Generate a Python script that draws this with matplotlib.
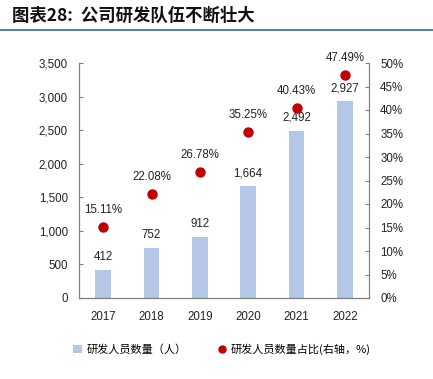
import matplotlib
matplotlib.use("Agg")
import matplotlib.pyplot as plt
from matplotlib.lines import Line2D
from matplotlib.patches import Patch

years = ["2017", "2018", "2019", "2020", "2021", "2022"]
staff = [412, 752, 912, 1664, 2492, 2927]
ratio = [15.11, 22.08, 26.78, 35.25, 40.43, 47.49]
left_ticks = [0, 500, 1000, 1500, 2000, 2500, 3000, 3500]
right_ticks = [0, 5, 10, 15, 20, 25, 30, 35, 40, 45, 50]

plt.rcParams['font.family'] = ['Liberation Sans', 'Noto Sans CJK SC', 'DejaVu Sans']

fig = plt.figure(figsize=(4.33, 3.79), dpi=100)
ax = fig.add_axes([79/433, 81/379, 290/433, 235/379])
ax2 = ax.twinx()

x = list(range(len(years)))
ax.bar(x, staff, width=0.32, color="#b4c7e7", zorder=2)
for xi, v in zip(x, staff):
    ax.annotate(f"{v:,}", (xi, v), xytext=(0, 5), textcoords="offset points",
                ha="center", va="bottom", fontsize=8.3, color="#222222")

ax2.scatter(x, ratio, s=42, color="#c00000", zorder=3)
for xi, v in zip(x, ratio):
    ax2.annotate(f"{v:.2f}%", (xi, v), xytext=(0, 8), textcoords="offset points",
                 ha="center", va="bottom", fontsize=8.3, color="#222222")

ax.set_xlim(-0.5, len(years) - 0.5)
ax.set_ylim(0, 3500)
ax2.set_ylim(0, 50)
ax.set_yticks(left_ticks)
ax.set_yticklabels([f"{t:,}" for t in left_ticks], fontsize=8.3)
ax2.set_yticks(right_ticks)
ax2.set_yticklabels([f"{t}%" for t in right_ticks], fontsize=8.3)
ax.set_xticks(x)
ax.set_xticklabels(years, fontsize=8.3)

for a in (ax, ax2):
    for s in a.spines.values():
        s.set_color("#7f7f7f")
        s.set_linewidth(0.8)
    a.spines['top'].set_visible(False)
ax.tick_params(axis='x', length=0, pad=9, colors="#222222")
ax.tick_params(axis='y', direction='in', length=3, color="#7f7f7f", labelcolor="#222222", pad=8)
ax2.tick_params(axis='y', direction='in', length=3, color="#7f7f7f", labelcolor="#222222", pad=8)

cjk = ['Noto Sans CJK SC', 'DejaVu Sans']
fig.text(12/433, 1 - 16/379, "图表28:  公司研发队伍不断壮大", fontsize=12.5, fontweight='bold',
         style='italic', family=cjk, va='center', ha='left', color="#111111")
fig.add_artist(Line2D([0, 1], [1 - 30/379, 1 - 30/379], color="#2a6f97", linewidth=1.2))

handles = [Patch(facecolor="#b4c7e7", edgecolor="none"),
           Line2D([], [], marker='o', linestyle='none', color="#c00000", markersize=5)]
labels = ["研发人员数量（人）", "研发人员数量占比(右轴，%)"]
fig.legend(handles, labels, loc='center', bbox_to_anchor=(222/433, 1 - 349/379), ncol=2,
           frameon=False, prop={'family': cjk, 'size': 8}, handlelength=0.8,
           handletextpad=0.4, columnspacing=2.8)

fig.savefig("out.png", dpi=100)
